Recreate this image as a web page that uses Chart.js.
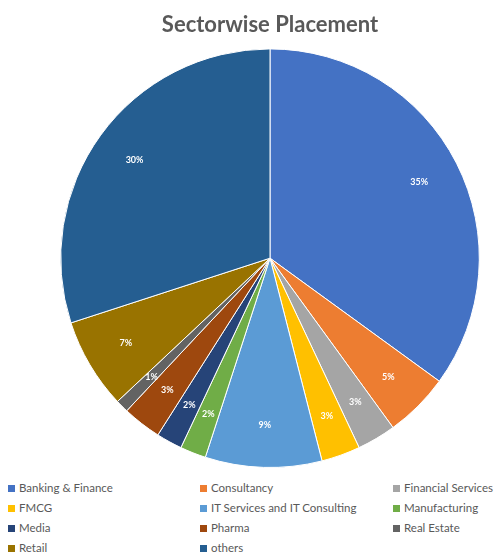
<!DOCTYPE html>
<html>
<head>
<meta charset="utf-8">
<script src="https://cdn.jsdelivr.net/npm/chart.js@4"></script>
<style>
  body { margin: 0; background: #fff; font-family: Lato, sans-serif; }
  #wrap { position: relative; width: 500px; height: 475px; }
  #legend { position: absolute; top: 480px; left: 8px; width: 492px; display: grid;
            grid-template-columns: 192px 193px 107px; row-gap: 4px; font-size: 11.5px; color: #595959; }
  #legend span.box { display: inline-block; width: 7px; height: 7px; margin-right: 4px; }
  #legend div { height: 16px; line-height: 16px; white-space: nowrap; }
</style>
</head>
<body>
<div id="wrap"><canvas id="pieChart" width="500" height="475"></canvas></div>
<div id="legend"></div>
<script>
const sectors = ['Banking & Finance', 'Consultancy', 'Financial Services', 'FMCG', 'IT Services and IT Consulting',
    'Manufacturing', 'Media', 'Pharma', 'Real Estate', 'Retail', 'others'];
const shares = [35, 5, 3, 3, 9, 2, 2, 3, 1, 7, 30];
const colors = ['#4472C4', '#ED7D31', '#A5A5A5', '#FFC000', '#5B9BD5', '#70AD47',
    '#264478', '#9E480E', '#636363', '#997300', '#255E91'];

// percentage labels inside slices
const sliceLabels = {
    id: 'sliceLabels',
    afterDatasetsDraw(chart) {
        const ctx = chart.ctx;
        const meta = chart.getDatasetMeta(0);
        ctx.save();
        ctx.fillStyle = '#fff';
        ctx.font = 'bold 9px Lato, sans-serif';
        ctx.textAlign = 'center';
        ctx.textBaseline = 'middle';
        meta.data.forEach((arc, i) => {
            const mid = (arc.startAngle + arc.endAngle) / 2;
            const r = arc.outerRadius * 0.8;
            ctx.fillText(shares[i] + '%', arc.x + Math.cos(mid) * r, arc.y + Math.sin(mid) * r);
        });
        ctx.restore();
    }
};

new Chart(document.getElementById('pieChart').getContext('2d'), {
    type: 'pie',
    data: {
        labels: sectors,
        datasets: [{ data: shares, backgroundColor: colors, borderColor: '#fff', borderWidth: 1 }]
    },
    options: {
        responsive: false,
        animation: false,
        layout: { padding: { top: 6, bottom: 7, left: 60, right: 20 } },
        plugins: {
            legend: { display: false },
            tooltip: { enabled: false },
            title: {
                display: true,
                text: 'Sectorwise Placement',
                color: '#595959',
                font: { size: 22, weight: 'bold', family: 'Lato, sans-serif' },
                padding: { top: 6, bottom: 10 }
            }
        }
    },
    plugins: [sliceLabels]
});

const legend = document.getElementById('legend');
sectors.forEach((name, i) => {
    const item = document.createElement('div');
    item.innerHTML = `<span class="box" style="background:${colors[i]}"></span>${name}`;
    legend.appendChild(item);
});
</script>
</body>
</html>
